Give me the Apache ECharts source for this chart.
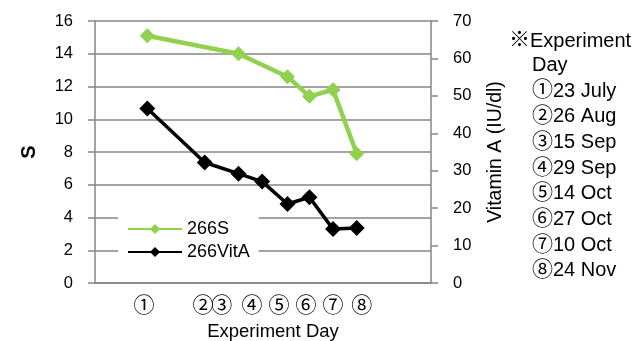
<!DOCTYPE html>
<html>
<head>
<meta charset="utf-8">
<script src="https://cdn.jsdelivr.net/npm/echarts@6/dist/echarts.min.js"></script>
<style>html,body{margin:0;padding:0;background:#fff;}#c{width:641px;height:341px;}</style>
</head>
<body>
<div id="c"></div>
<script>
// Experiment days as day offsets from 23 July
const dayLabels = ['①','②','③','④','⑤','⑥','⑦','⑧'];
const dayDates = ['23 July','26 Aug','15 Sep','29 Sep','14 Oct','27 Oct','10 Oct','24 Nov'];
const vitDays = [0, 34, 54, 68, 83, 96, 110, 124];
const vitValues = [46.6, 32.2, 29.2, 27.1, 21.1, 22.9, 14.4, 14.7];
const sDays = [0, 54, 83, 96, 110, 124];
const sValues = [15.1, 14.0, 12.6, 11.4, 11.8, 7.9];
// positions of the circled-number labels under the axis (day offsets)
const labelDays = [-2, 33, 44, 62, 78, 94, 110, 127];
const leftTicks = [0, 2, 4, 6, 8, 10, 12, 14, 16];
const rightTicks = [0, 10, 20, 30, 40, 50, 60, 70];

const FONT = '"Liberation Sans", Arial, sans-serif';
const CJK = '"Noto Sans CJK JP", sans-serif';
const AX = '#868686';

const chart = echarts.init(document.getElementById('c'), null, {renderer: 'canvas'});

const noteLines = [{text: '{c|※}Experiment', x: 509, y: 40}, {text: 'Day', x: 532, y: 65}];
dayLabels.forEach((l, i) => noteLines.push({text: '{c|' + l + '}' + dayDates[i], x: 532, y: 90 + i * 25.7}));

const option = {
  animation: false,
  textStyle: {fontFamily: FONT},
  grid: {left: 95, right: 210, top: 21, bottom: 58, containLabel: false, outerBoundsMode: 'none'},
  legend: {
    left: 118, top: 214, orient: 'vertical',
    backgroundColor: '#fff', padding: [6, 9, 6, 9],
    itemWidth: 54, itemHeight: 12.5, itemGap: 5,
    textStyle: {fontSize: 18, color: '#000', fontFamily: FONT},
    data: ['266S', '266VitA']
  },
  xAxis: {
    type: 'value', min: -31, max: 168,
    axisLine: {onZero: false, lineStyle: {color: AX, width: 1.5}},
    axisTick: {show: false},
    splitLine: {show: false},
    axisLabel: {
      customValues: labelDays,
      formatter: function (v) {
        let best = 0;
        labelDays.forEach((d, i) => { if (Math.abs(d - v) < Math.abs(labelDays[best] - v)) best = i; });
        return dayLabels[best];
      },
      fontSize: 21, color: '#000', margin: 11, fontFamily: CJK
    },
    name: 'Experiment Day', nameLocation: 'middle', nameGap: 39,
    nameTextStyle: {fontSize: 18.5, color: '#000', padding: [0, 0, 0, 20], fontFamily: FONT}
  },
  yAxis: [
    {
      type: 'value', min: leftTicks[0], max: leftTicks[leftTicks.length - 1], interval: 2, position: 'left',
      axisLine: {show: true, onZero: false, lineStyle: {color: AX, width: 1.5}},
      axisTick: {show: true, length: 7, lineStyle: {color: AX, width: 1.5}},
      splitLine: {show: true, lineStyle: {color: AX, width: 1.5}},
      axisLabel: {fontSize: 16.5, color: '#000', margin: 22, fontFamily: FONT},
      name: 'S', nameLocation: 'middle', nameGap: 56, nameRotate: 90,
      nameTextStyle: {fontSize: 20, fontWeight: 'bold', color: '#000', fontFamily: FONT}
    },
    {
      type: 'value', min: rightTicks[0], max: rightTicks[rightTicks.length - 1], interval: 10, position: 'right',
      axisLine: {show: true, onZero: false, lineStyle: {color: AX, width: 1.5}},
      axisTick: {show: true, length: 7, lineStyle: {color: AX, width: 1.5}},
      splitLine: {show: false},
      axisLabel: {fontSize: 16.5, color: '#000', margin: 22, fontFamily: FONT},
      name: 'Vitamin A (IU/dl)', nameLocation: 'middle', nameGap: 55, nameRotate: 90,
      nameTextStyle: {fontSize: 19.5, color: '#000', fontFamily: FONT}
    }
  ],
  series: [
    {
      name: '266S', type: 'line', yAxisIndex: 0,
      data: sDays.map((d, i) => [d, sValues[i]]),
      symbol: 'diamond', symbolSize: 15, showAllSymbol: true,
      itemStyle: {color: '#92D050'},
      lineStyle: {color: '#92D050', width: 4.5},
      z: 3
    },
    {
      name: '266VitA', type: 'line', yAxisIndex: 1,
      data: vitDays.map((d, i) => [d, vitValues[i]]),
      symbol: 'diamond', symbolSize: 16, showAllSymbol: true,
      itemStyle: {color: '#000'},
      lineStyle: {color: '#000', width: 3.5},
      z: 2
    }
  ],
  graphic: noteLines.map(l => ({
    type: 'text', left: l.x, top: l.y - 12,
    style: {
      text: l.text, fontSize: 20, fontFamily: FONT, fill: '#000', lineHeight: 24,
      rich: {c: {fontSize: 21, fontFamily: CJK, fill: '#000', lineHeight: 24, verticalAlign: 'middle', padding: [0, 0, 5, 0]}}
    }
  }))
};
chart.setOption(option);
</script>
</body>
</html>
